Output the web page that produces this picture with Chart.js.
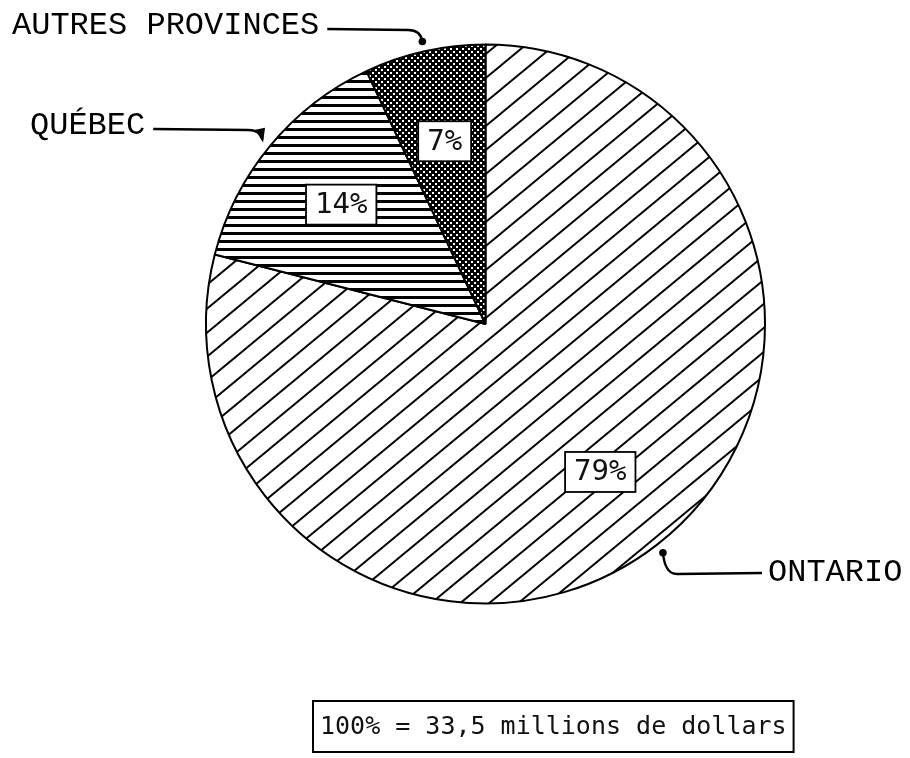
<!DOCTYPE html>
<html>
<head>
<meta charset="utf-8">
<script src="https://cdn.jsdelivr.net/npm/chart.js@4/dist/chart.umd.min.js"></script>
<style>
  html, body { margin: 0; padding: 0; background: #fff; }
  #wrap { width: 910px; height: 758px; }
</style>
</head>
<body>
<div id="wrap"><canvas id="pie" width="910" height="758"></canvas></div>
<script>
const regions = ['Ontario', 'Québec', 'Autres provinces'];
const shares = [79, 14, 7];
const calloutNames = ['ONTARIO', 'QUÉBEC', 'AUTRES PROVINCES'];
const totalNote = '100% = 33,5 millions de dollars';

// callout text placement (x, baseline), leader height and tip style per slice
const callouts = [
  { x: 768, y: 581, side: 'right', lineY: 573, tip: 'dot' },
  { x: 30, y: 134, side: 'left', lineY: 129, tip: 'arrow' },
  { x: 12, y: 34, side: 'left', lineY: 29, tip: 'dot' }
];

const typeFont = '32px "Liberation Mono", "Courier New", monospace';
const plotFont = '29px "DejaVu Sans Mono", monospace';

function makeTile(w, h, draw) {
  const c = document.createElement('canvas');
  c.width = w; c.height = h;
  const g = c.getContext('2d');
  g.fillStyle = '#fff';
  g.fillRect(0, 0, w, h);
  draw(g, w, h);
  return document.getElementById('pie').getContext('2d').createPattern(c, 'repeat');
}

// "/" hatching
const diagHatch = makeTile(29, 24, (g, w, h) => {
  g.strokeStyle = '#000';
  g.lineWidth = 2;
  for (let k = -1; k <= 1; k++) {
    g.beginPath();
    g.moveTo(k * w - w, 2 * h);
    g.lineTo(k * w + 2 * w, -h);
    g.stroke();
  }
});

// horizontal rules
const rowHatch = makeTile(4, 8, (g, w) => {
  g.fillStyle = '#000';
  g.fillRect(0, 0, w, 3);
});

// dense dark screen
const darkScreen = makeTile(6, 6, (g) => {
  g.fillStyle = '#000';
  g.fillRect(0, 0, 6, 6);
  g.fillStyle = '#fff';
  g.fillRect(0, 0, 2, 2);
  g.fillRect(3, 3, 2, 2);
});

const fills = [diagHatch, rowHatch, darkScreen];

const annotate = {
  id: 'annotate',
  afterDatasetsDraw(chart) {
    const ctx = chart.ctx;
    const arcs = chart.getDatasetMeta(0).data;
    ctx.save();

    arcs.forEach((arc, i) => {
      const p = arc.getProps(['x', 'y', 'startAngle', 'endAngle', 'outerRadius'], true);
      const mid = (p.startAngle + p.endAngle) / 2;

      // percentage box inside the slice
      const bx = p.x + Math.cos(mid) * p.outerRadius * 0.67;
      const by = p.y + Math.sin(mid) * p.outerRadius * 0.67;
      const txt = shares[i] + '%';
      ctx.font = plotFont;
      const tw = ctx.measureText(txt).width;
      const bw = tw + 18, bh = 40;
      ctx.fillStyle = '#fff';
      ctx.fillRect(bx - bw / 2, by - bh / 2, bw, bh);
      ctx.strokeStyle = '#000';
      ctx.lineWidth = 1.8;
      ctx.strokeRect(bx - bw / 2, by - bh / 2, bw, bh);
      ctx.fillStyle = '#111';
      ctx.textAlign = 'center';
      ctx.textBaseline = 'middle';
      ctx.fillText(txt, bx, by + 1);

      // callout name with leader
      const c = callouts[i];
      ctx.font = typeFont;
      ctx.textAlign = 'left';
      ctx.textBaseline = 'alphabetic';
      ctx.fillStyle = '#000';
      ctx.fillText(calloutNames[i], c.x, c.y);
      const nameW = ctx.measureText(calloutNames[i]).width;

      const tx = p.x + Math.cos(mid) * (p.outerRadius + 10);
      const ty = p.y + Math.sin(mid) * (p.outerRadius + 10);
      const dir = c.side === 'left' ? 1 : -1;
      const sx = c.side === 'left' ? c.x + nameW + 8 : c.x - 6;
      const hx = tx - dir * 14;
      const cx = tx - dir * 2;
      ctx.strokeStyle = '#000';
      ctx.lineWidth = 2.4;
      ctx.beginPath();
      ctx.moveTo(sx, c.lineY);
      ctx.lineTo(hx, c.lineY + 1);
      ctx.quadraticCurveTo(cx, c.lineY + 1, tx, ty);
      ctx.stroke();

      ctx.fillStyle = '#000';
      if (c.tip === 'dot') {
        ctx.beginPath();
        ctx.arc(tx, ty, 3.8, 0, Math.PI * 2);
        ctx.fill();
      } else {
        const a = Math.atan2(ty - (c.lineY + 1), tx - cx);
        ctx.beginPath();
        ctx.moveTo(tx + Math.cos(a) * 3, ty + Math.sin(a) * 3);
        ctx.lineTo(tx - Math.cos(a) * 11 - Math.sin(a) * 5, ty - Math.sin(a) * 11 + Math.cos(a) * 5);
        ctx.lineTo(tx - Math.cos(a) * 11 + Math.sin(a) * 5, ty - Math.sin(a) * 11 - Math.cos(a) * 5);
        ctx.closePath();
        ctx.fill();
      }
    });

    // total note under the pie
    ctx.font = '25px "DejaVu Sans Mono", monospace';
    const nw = ctx.measureText(totalNote).width;
    const nx = 313, ny = 701, nh = 51;
    ctx.strokeStyle = '#000';
    ctx.lineWidth = 2;
    ctx.strokeRect(nx, ny, nw + 14, nh);
    ctx.fillStyle = '#111';
    ctx.textAlign = 'left';
    ctx.textBaseline = 'middle';
    ctx.fillText(totalNote, nx + 7, ny + nh / 2 + 1);

    ctx.restore();
  }
};

new Chart(document.getElementById('pie'), {
  type: 'pie',
  data: {
    labels: regions,
    datasets: [{
      data: shares,
      backgroundColor: fills,
      borderColor: '#000',
      borderWidth: 2,
      hoverOffset: 0,
      offset: 0
    }]
  },
  options: {
    responsive: false,
    animation: false,
    rotation: 0,
    layout: { padding: { left: 205, right: 144, top: 43, bottom: 153 } },
    plugins: {
      legend: { display: false },
      tooltip: { enabled: false }
    }
  },
  plugins: [annotate]
});
</script>
</body>
</html>
